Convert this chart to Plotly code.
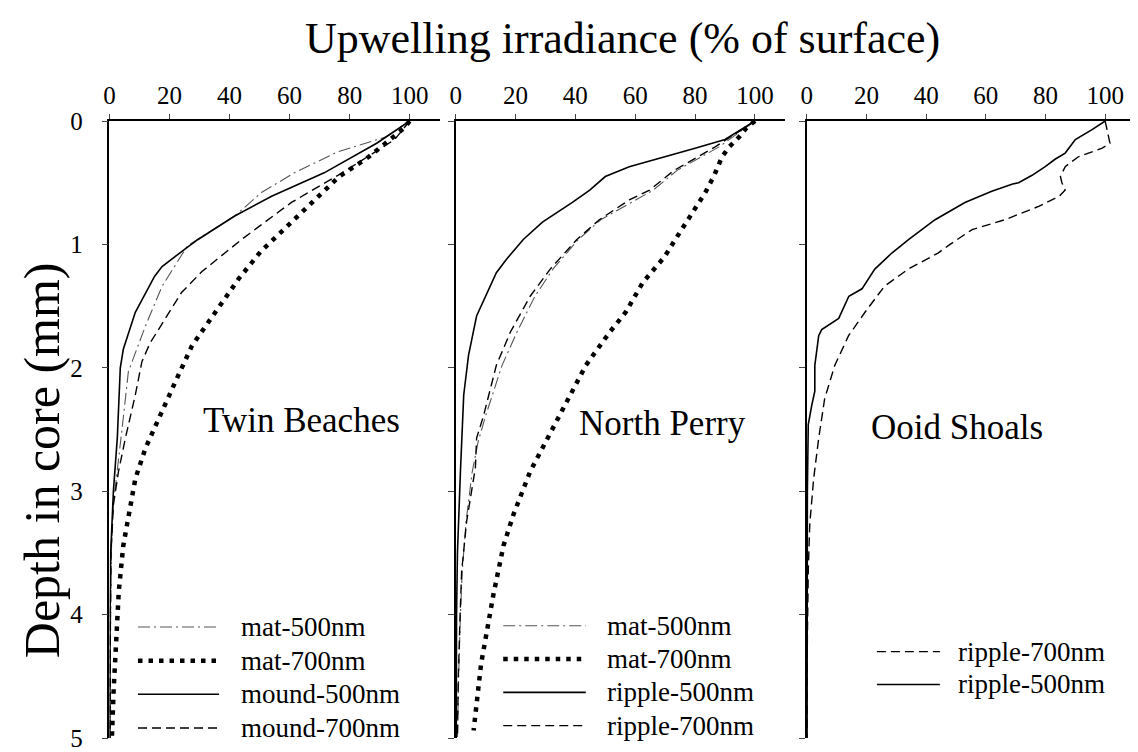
import plotly.graph_objects as go

# ---------------- data ----------------
x_ticks = [0, 20, 40, 60, 80, 100]
y_ticks = [0, 1, 2, 3, 4, 5]

panel_names = ["Twin Beaches", "North Perry", "Ooid Shoals"]

# Twin Beaches
tb_mat500_depth = [0, 0.13, 0.25, 0.42, 0.58, 0.77, 1.01, 1.34, 1.66, 2.03, 2.47, 2.84, 3.1, 3.5, 4.0, 4.5, 5.0]
tb_mat500_val = [100, 92, 76, 61.6, 50.6, 41.7, 26, 17.5, 12, 6.3, 4.3, 2.6, 1.3, 0.6, 0.3, 0.2, 0.1]
tb_mat700_depth = [0, 0.06, 0.29, 0.45, 0.66, 0.8, 1.06, 1.28, 1.59, 1.82, 2.11, 2.43, 2.65, 2.9, 3.19, 3.44, 3.81, 4.2, 4.6, 5.0]
tb_mat700_val = [100, 98, 86.4, 76.5, 67.5, 61.5, 50.3, 43, 34, 27.5, 22, 16, 12, 8.6, 6.3, 4.6, 3.1, 2.2, 1.4, 0.8]
tb_mound500_depth = [0, 0.18, 0.42, 0.61, 0.77, 0.96, 1.04, 1.18, 1.26, 1.55, 1.85, 2.0, 2.57, 3.0, 3.5, 4.0, 5.0]
tb_mound500_val = [100, 89, 71.5, 54, 41.7, 29.5, 25, 17.5, 15, 8.6, 4.6, 3.6, 2.6, 1.3, 0.4, 0.2, 0.1]
tb_mound700_depth = [0, 0.15, 0.42, 0.66, 0.96, 1.1, 1.22, 1.39, 1.6, 1.8, 1.95, 2.22, 2.57, 2.84, 3.11, 3.5, 4.0, 5.0]
tb_mound700_val = [100, 95, 77.5, 60.6, 44, 37, 30.8, 24, 18.5, 13.5, 10.8, 8.6, 5.3, 3, 1.3, 0.5, 0.3, 0.2]

# North Perry
np_mat500_depth = [0, 0.21, 0.4, 0.56, 0.8, 0.96, 1.2, 1.42, 1.71, 1.98, 2.39, 2.6, 2.85, 3.24, 3.65, 4.0, 4.5, 5.0]
np_mat500_val = [100, 88, 74, 66, 48.5, 41, 32.5, 26.5, 20.5, 15.5, 10, 7.5, 5.5, 3.5, 2.2, 1.6, 1.0, 0.6]
np_mat700_depth = [0, 0.06, 0.13, 0.21, 0.29, 0.44, 0.58, 0.74, 0.96, 1.1, 1.31, 1.55, 1.71, 1.98, 2.22, 2.52, 2.84, 3.19, 3.44, 3.84, 4.4, 4.94]
np_mat700_val = [100, 97, 94.7, 91.4, 89, 86.4, 83.4, 79, 73.4, 69.8, 62.5, 56.8, 51.5, 43.5, 38.2, 31.6, 24.9, 19.3, 16, 12.6, 8.5, 6]
np_ripple500_depth = [0, 0.15, 0.22, 0.31, 0.37, 0.45, 0.56, 0.66, 0.82, 0.96, 1.12, 1.23, 1.58, 1.9, 2.22, 2.84, 3.5, 4.0, 5.0]
np_ripple500_val = [100, 90, 80, 66.8, 58, 50, 44.8, 39, 29, 22.6, 17, 13.6, 7, 4.3, 2.7, 1.6, 0.6, 0.3, 0.2]
np_ripple700_depth = [0, 0.21, 0.4, 0.56, 0.64, 0.8, 0.96, 1.2, 1.42, 1.71, 1.98, 2.39, 2.57, 2.81, 3.24, 3.65, 4.0, 4.5, 5.0]
np_ripple700_val = [100, 86.7, 73, 64.8, 58, 48, 40.5, 31.6, 24.9, 18.3, 13.6, 9.3, 7, 6.6, 3.7, 2, 1.5, 0.9, 0.6]

# Ooid Shoals
os_ripple500_depth = [0, 0.07, 0.15, 0.26, 0.31, 0.37, 0.44, 0.5, 0.51, 0.57, 0.66, 0.8, 0.96, 1.07, 1.2, 1.36, 1.42, 1.55, 1.6, 1.69, 1.74, 1.98, 2.19, 2.3, 2.46, 3.0, 4.0, 5.0]
os_ripple500_val = [100, 95.6, 90, 86.6, 83.2, 79.9, 75.5, 71, 69, 62, 53, 43, 34.2, 28.5, 22.8, 18.5, 14.1, 11.7, 10.7, 5, 4, 2.7, 2.7, 1.7, 0.5, 0.2, 0.1, 0.1]
os_ripple700_depth = [0, 0.13, 0.18, 0.22, 0.29, 0.37, 0.45, 0.5, 0.56, 0.61, 0.69, 0.8, 0.88, 1.0, 1.07, 1.2, 1.34, 1.55, 1.74, 1.98, 2.25, 2.57, 2.9, 3.27, 3.65, 4.2, 5.0]
os_ripple700_val = [100, 101, 101.6, 99, 91, 86.6, 85, 85.5, 86.6, 84.6, 77.9, 66.4, 55.4, 48, 44, 34, 26, 19.5, 14, 9.4, 6, 4, 2.3, 1, 0.5, 0.2, 0.1]

# ---------------- styles ----------------
FONT = "Liberation Serif"
STYLE = {
    "dashdot": dict(color="#555555", width=1.1, dash="12px,4px,2px,4px"),
    "dot": dict(color="black", width=4.5, dash="4.5px,6px"),
    "solid": dict(color="black", width=1.6),
    "dash": dict(color="black", width=1.4, dash="9px,5px"),
}

panels = [
    [("mat-500nm", tb_mat500_val, tb_mat500_depth, "dashdot"),
     ("mat-700nm", tb_mat700_val, tb_mat700_depth, "dot"),
     ("mound-500nm", tb_mound500_val, tb_mound500_depth, "solid"),
     ("mound-700nm", tb_mound700_val, tb_mound700_depth, "dash")],
    [("mat-500nm", np_mat500_val, np_mat500_depth, "dashdot"),
     ("mat-700nm", np_mat700_val, np_mat700_depth, "dot"),
     ("ripple-500nm", np_ripple500_val, np_ripple500_depth, "solid"),
     ("ripple-700nm", np_ripple700_val, np_ripple700_depth, "dash")],
    [("ripple-700nm", os_ripple700_val, os_ripple700_depth, "dash"),
     ("ripple-500nm", os_ripple500_val, os_ripple500_depth, "solid")],
]

# page body has an 8px margin: figure is drawn 8px right/down of the window origin
OFF = 8
W, H = 1138 - OFF, 752 - OFF
def px(p):
    return (p - OFF) / W

domains = [(px(104), px(436)), (px(452), px(783)), (px(805), px(1135))]
# legend placement (data coords of each panel): sample x0, x1, text x, first row y, row step
legend_pos = [(9.5, 36.5, 43.0, 4.10, 0.273),
              (15.9, 43.5, 49.8, 4.09, 0.270),
              (23.5, 44.6, 50.0, 4.30, 0.266)]
label_pos = [(64, 2.43), (69, 2.45), (50.5, 2.48)]

fig = go.Figure()
shapes = []
annotations = []

for i, series in enumerate(panels):
    xa = "x" if i == 0 else f"x{i+1}"
    ya = "y" if i == 0 else f"y{i+1}"
    for name, vals, depth, st in series:
        fig.add_trace(go.Scatter(x=vals, y=depth, mode="lines", name=name,
                                 line=STYLE[st], xaxis=xa, yaxis=ya,
                                 showlegend=False, hoverinfo="name+x+y"))
    # manual legend
    sx0, sx1, tx, ry0, step = legend_pos[i]
    for k, (name, _, _, st) in enumerate(series):
        yy = ry0 + k * step
        shapes.append(dict(type="line", xref=xa, yref=ya, x0=sx0, x1=sx1, y0=yy, y1=yy,
                           line=STYLE[st]))
        annotations.append(dict(x=tx, y=yy, xref=xa, yref=ya, text=name, showarrow=False,
                                xanchor="left", yanchor="middle",
                                font=dict(family=FONT, size=27, color="black")))
    lx, ly = label_pos[i]
    annotations.append(dict(x=lx, y=ly, xref=xa, yref=ya, text=panel_names[i], showarrow=False,
                            xanchor="center", yanchor="middle",
                            font=dict(family=FONT, size=35, color="black")))

plot_h = 620
annotations.append(dict(x=px(620), y=1 + (121 - 38) / plot_h, xref="paper", yref="paper",
                        text="Upwelling irradiance (% of surface)", showarrow=False,
                        xanchor="center", yanchor="middle",
                        font=dict(family=FONT, size=44, color="black")))
annotations.append(dict(x=px(37), y=(741 - 462) / plot_h, xref="paper", yref="paper",
                        text="Depth in core (mm)", showarrow=False, textangle=-90,
                        xanchor="center", yanchor="middle",
                        font=dict(family=FONT, size=50, color="black")))

layout = dict(
    width=W, height=H,
    margin=dict(l=0, r=0, t=121 - OFF, b=752 - 741),
    paper_bgcolor="white", plot_bgcolor="white",
    font=dict(family=FONT, color="black"),
    shapes=shapes, annotations=annotations,
    showlegend=False,
)
for i in range(3):
    xk = "xaxis" if i == 0 else f"xaxis{i+1}"
    yk = "yaxis" if i == 0 else f"yaxis{i+1}"
    ya = "y" if i == 0 else f"y{i+1}"
    xa = "x" if i == 0 else f"x{i+1}"
    layout[xk] = dict(domain=list(domains[i]), range=[0, 110], side="top", anchor=ya,
                      tickvals=x_ticks, ticks="outside", ticklen=5, tickwidth=1.2,
                      showline=True, linecolor="black", linewidth=1.5, showgrid=False,
                      zeroline=False, ticklabeloverflow="allow",
                      tickfont=dict(family=FONT, size=25, color="black"))
    layout[yk] = dict(domain=[0, 1], range=[5, 0], anchor=xa,
                      tickvals=y_ticks, ticks="outside", ticklen=6, tickwidth=1.2,
                      showline=True, linecolor="black", linewidth=1.5, showgrid=False,
                      zeroline=False, showticklabels=(i == 0), ticklabelstandoff=14,
                      ticklabeloverflow="allow",
                      tickfont=dict(family=FONT, size=25, color="black"))

fig.update_layout(**layout)
fig.write_html("out.html")
